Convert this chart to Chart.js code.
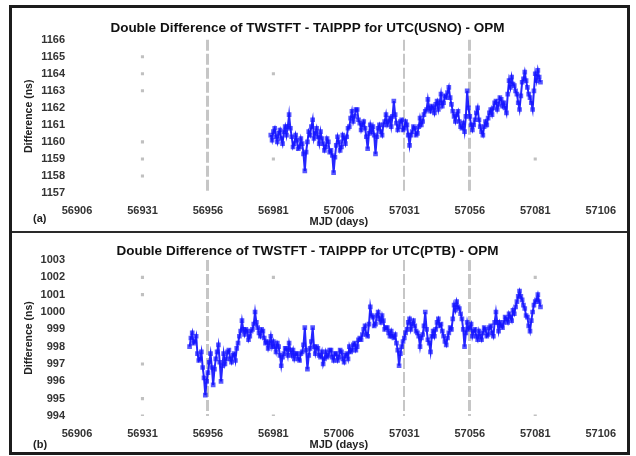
<!DOCTYPE html>
<html>
<head>
<meta charset="utf-8">
<script src="https://cdn.jsdelivr.net/npm/chart.js@4"></script>
<style>
  html, body { margin: 0; padding: 0; background: #fff; width: 636px; height: 456px; overflow: hidden; }
  #frame { position: absolute; left: 9px; top: 5px; width: 615px; height: 444px; border: 3px solid #1c1c1c; }
  #divider { position: absolute; left: 12px; top: 231px; width: 615px; height: 2px; background: #2a2a2a; }
  .cv { position: absolute; left: 12px; }
  .lab { position: absolute; font: bold 11px "Liberation Sans", Arial, sans-serif; color: #222; }
</style>
</head>
<body>
<div id="frame"></div>
<div id="divider"></div>
<div class="cv" style="top:8px;width:615px;height:223px;"><canvas id="c1"></canvas></div>
<div class="cv" style="top:234px;width:615px;height:218px;"><canvas id="c2"></canvas></div>
<div class="lab" style="left:33px;top:212px;">(a)</div>
<div class="lab" style="left:33px;top:438px;">(b)</div>
<script>
// ---- data ----
const xTickMin = 56906, xTickMax = 57106, xTickStep = 25;
const markerDays = [56956, 57031, 57056];

const titleA = "Double Difference of TWSTFT - TAIPPP for UTC(USNO) - OPM";
const yTicksA = [1157, 1158, 1159, 1160, 1161, 1162, 1163, 1164, 1165, 1166];
const startDayA = 56980;
// daily samples (MJD startDayA, startDayA+1, ...)
const valuesA = [
  1160.4,1160.6,1160.3,1160.5,1160.2,1160.6,1160.4,1161.6,1160.3,1159.9,
  1160.1,1159.7,1159.9,1158.3,1160.0,1160.4,1161.3,1160.5,1160.3,1160.6,
  1159.9,1159.7,1160.0,1159.5,1158.2,1159.8,1160.0,1159.7,1160.2,1160.3,
  1160.9,1161.8,1161.5,1161.9,1161.1,1161.0,1160.8,1159.6,1161.0,1160.9,
  1159.3,1160.8,1160.6,1161.0,1161.6,1161.2,1160.9,1162.4,1161.1,1160.9,
  1161.3,1160.8,1161.0,1159.8,1160.6,1160.8,1160.5,1161.4,1161.2,1161.8,
  1162.5,1161.8,1162.0,1162.2,1161.9,1162.8,1162.3,1162.6,1163.2,1162.2,
  1161.5,1161.6,1161.2,1160.8,1160.6,1163.0,1161.5,1160.7,1161.3,1162.0,
  1160.9,1160.4,1161.2,1161.4,1161.9,1162.0,1162.4,1162.2,1162.5,1162.3,
  1161.7,1163.6,1163.8,1163.3,1162.8,1161.9,1163.5,1164.1,1163.2,1162.6,
  1161.9,1164.0,1164.2,1163.5
];
// mid-day samples (MJD startDayA+0.5, startDayA+1.5, ...)
const valuesAHalf = [
  1160.1,1160.8,1160.0,1160.7,1159.9,1160.9,1160.9,1160.8,1159.7,1160.4,
  1159.6,1160.2,1159.3,1159.4,1160.6,1160.9,1160.2,1160.8,1159.9,1160.2,
  1159.5,1160.2,1159.4,1159.2,1159.1,1160.3,1159.5,1160.4,1159.9,1160.8,
  1161.4,1161.2,1161.9,1161.3,1160.7,1161.2,1160.3,1160.5,1160.6,1160.4,
  1160.3,1161.0,1160.4,1161.2,1161.0,1161.4,1161.5,1161.6,1160.7,1161.2,
  1160.7,1161.2,1160.4,1160.4,1160.9,1160.4,1160.9,1161.0,1161.6,1161.9,
  1162.0,1162.1,1161.7,1162.4,1162.3,1162.1,1162.7,1162.9,1162.6,1161.8,
  1161.2,1161.8,1160.9,1161.1,1161.5,1162.0,1161.0,1161.0,1161.7,1161.3,
  1160.6,1160.9,1161.0,1161.7,1161.6,1162.3,1161.9,1162.6,1162.1,1162.0,
  1162.8,1163.2,1163.4,1163.0,1162.3,1162.7,1163.7,1163.6,1162.8,1162.3,
  1163.0,1163.6,1163.8
];
const dotsAx = [56931, 56931, 56931, 56931, 56931, 56931, 56981, 56981, 57081];
const dotsAy = [1165, 1164, 1163, 1160, 1159, 1158, 1164, 1159, 1159];

const titleB = "Double Difference of TWSTFT - TAIPPP for UTC(PTB) - OPM";
const yTicksB = [994, 995, 996, 997, 998, 999, 1000, 1001, 1002, 1003];
const startDayB = 56949;
const valuesB = [
  998.0,998.8,998.3,997.6,997.3,996.8,995.2,996.5,997.6,995.8,
  997.3,998.1,996.0,997.6,997.3,997.8,997.1,997.6,997.9,998.6,
  999.5,998.7,998.9,998.6,999.0,1000.0,999.1,998.6,998.9,998.2,
  997.9,998.6,998.3,997.7,998.0,996.9,997.6,997.9,998.2,997.5,
  997.3,997.6,997.2,997.7,999.1,996.7,997.9,999.1,997.6,997.9,
  997.4,997.0,997.7,997.5,997.8,997.2,997.6,997.4,997.7,997.1,
  997.6,998.0,997.8,998.2,998.0,998.5,998.7,999.2,998.6,1000.3,
  999.7,999.3,1000.0,999.4,999.5,999.1,998.8,998.9,998.5,998.2,
  996.9,998.0,998.5,999.0,999.6,999.3,999.2,998.8,998.0,998.7,
  1000.0,998.4,997.7,998.9,999.0,999.6,999.3,998.6,998.1,998.8,
  999.0,1000.4,1000.6,1000.2,999.6,998.0,999.4,999.1,998.6,999.0,
  998.4,998.6,998.8,999.0,998.7,999.2,998.6,1000.0,998.9,999.2,
  999.4,999.6,999.9,999.5,999.9,1000.6,1001.2,1000.7,1000.2,999.7,
  998.9,1000.0,1000.6,1001.0,1000.3
];
const valuesBHalf = [
  998.5,998.2,998.6,997.2,997.7,996.2,996.0,997.1,996.8,996.7,
  997.7,997.1,996.9,997.0,997.7,997.3,997.5,997.2,998.2,998.9,
  999.0,999.0,998.4,998.9,999.3,999.4,998.8,999.0,998.5,998.3,
  998.2,998.0,998.0,998.2,997.5,997.4,997.9,997.5,997.8,997.8,
  997.6,997.3,997.6,998.1,997.8,997.5,998.3,998.0,998.0,997.5,
  997.7,997.3,997.4,997.8,997.4,997.6,997.2,997.8,997.3,997.5,
  997.3,997.7,998.1,997.8,998.4,998.4,999.0,998.7,999.3,999.8,
  999.2,999.8,999.6,999.8,999.0,999.1,998.6,998.6,998.7,997.8,
  997.6,998.3,998.8,999.4,999.0,999.5,998.9,998.6,998.5,999.2,
  999.0,998.2,998.6,998.6,999.4,999.2,998.9,998.3,998.5,999.1,
  999.6,1000.1,1000.3,999.9,999.0,998.8,999.0,999.3,998.9,998.6,
  998.9,998.4,999.1,998.6,999.1,998.8,999.4,999.4,999.4,999.1,
  999.7,999.4,999.7,1000.1,1000.3,1000.9,1000.9,1000.4,999.8,999.2,
  999.5,1000.4,1000.7,1000.6
];
const dotsBx = [56931, 56931, 56931, 56931, 56931, 56981, 56981, 57081, 57081];
const dotsBy = [1002, 1001, 997, 995, 994, 1002, 994, 1002, 994];

// ---- build ----
const FONT = '"Liberation Sans", Arial, sans-serif';
Chart.defaults.font.family = FONT;
Chart.defaults.color = '#222';

function mergeSeries(startDay, daily, half) {
  const pts = [];
  daily.forEach((v, i) => {
    pts.push({ x: startDay + i, y: v });
    if (i < half.length) pts.push({ x: startDay + i + 0.5, y: half[i] });
  });
  return pts;
}

function makeChart(id, title, series, yTicks, dx, dy, opts) {
  const dots = dx.map((x, i) => ({ x: x, y: dy[i] }));
  return new Chart(document.getElementById(id), {
    type: 'scatter',
    data: {
      datasets: [
        {
          data: dots, showLine: false, pointStyle: 'rect', pointRadius: 2.2,
          pointBackgroundColor: '#c0c0c0', pointBorderWidth: 0, order: 2
        },
        {
          data: series, showLine: true, borderColor: 'rgba(0,0,255,0.85)', borderWidth: 2,
          pointStyle: 'rect', pointRadius: 3.3, pointBorderWidth: 0,
          pointBackgroundColor: 'rgba(20,20,255,0.7)', order: 1
        }
      ]
    },
    options: {
      responsive: true, maintainAspectRatio: false, animation: false,
      layout: { padding: { left: 0, right: 24, top: 0, bottom: 0 } },
      plugins: {
        legend: { display: false }, tooltip: { enabled: false },
        title: {
          display: true, text: title, color: '#111',
          font: { size: 13.5, weight: 'bold', family: FONT },
          padding: opts.titlePad
        }
      },
      scales: {
        x: {
          type: 'linear', min: xTickMin, max: xTickMax,
          afterFit: s => { s.height = opts.xHeight; },
          ticks: {
            stepSize: xTickStep, padding: 11, maxRotation: 0, autoSkip: false,
            font: { size: 11, weight: 'bold' }, color: '#333',
            callback: v => String(v)
          },
          grid: {
            drawTicks: false,
            color: c => markerDays.includes(c.tick && c.tick.value) ? '#c6c6c6' : 'rgba(0,0,0,0)',
            lineWidth: c => (c.tick && c.tick.value === 57031) ? 2 : 3
          },
          border: { display: false, dash: [11, 3] },
          title: {
            display: true, text: 'MJD (days)', color: '#222',
            font: { size: 11, weight: 'bold' }, padding: { top: 0, bottom: opts.xTitleBottom }
          }
        },
        y: {
          min: yTicks[0], max: yTicks[yTicks.length - 1],
          afterFit: s => { s.width = 65; },
          afterBuildTicks: s => { s.ticks = yTicks.map(v => ({ value: v })); },
          ticks: { padding: 12, font: { size: 11, weight: 'bold' }, color: '#333', callback: v => String(v) },
          grid: { display: false, drawTicks: false },
          border: { display: false },
          title: {
            display: true, text: 'Difference (ns)', color: '#222',
            font: { size: 10.5, weight: 'bold' }, padding: { top: 10.5, bottom: 0 }
          }
        }
      }
    }
  });
}

makeChart('c1', titleA, mergeSeries(startDayA, valuesA, valuesAHalf), yTicksA, dotsAx, dotsAy,
  { titlePad: { top: 12, bottom: 3.5 }, xHeight: 38, xTitleBottom: 2.5 });
makeChart('c2', titleB, mergeSeries(startDayB, valuesB, valuesBHalf), yTicksB, dotsBx, dotsBy,
  { titlePad: { top: 9.2, bottom: 0.6 }, xHeight: 36, xTitleBottom: 0 });
</script>
</body>
</html>
